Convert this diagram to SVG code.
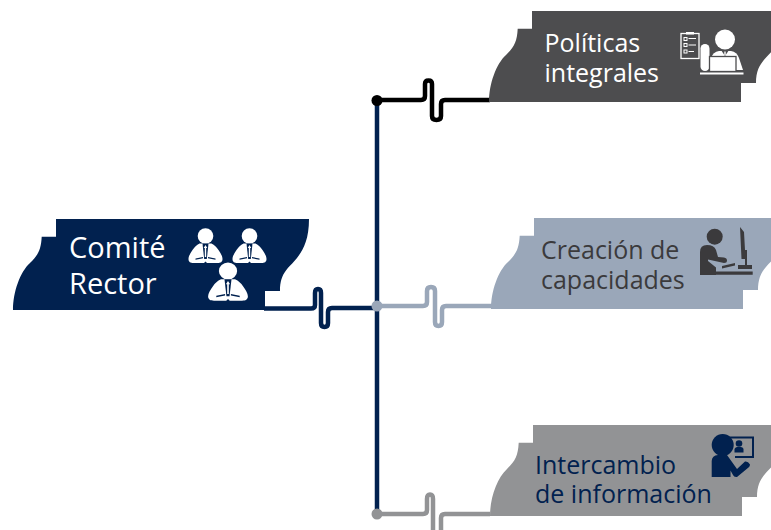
<svg xmlns="http://www.w3.org/2000/svg" xmlns:xlink="http://www.w3.org/1999/xlink" width="771" height="530" viewBox="0 0 771 530">
<style>
text{font-family:"Open Sans","Noto Sans","Liberation Sans",sans-serif;font-size:25px}
.big{font-size:29px}
.w{fill:#fff}.d{fill:#3b3a3c}.n{fill:#01214f}
.c{fill:none;stroke-width:4.500;stroke-linejoin:round}
.lw{fill:none;stroke:#fff}
</style>
<defs>
<path id="tag" d="M56 219H309C309 240 303 250 297 258C289 268 280 272 280 291H265V310H13C13 292 20 272 30 263C38 255 41 250 41.7 236.7H56Z"/>
<g id="boss">
<circle cx="0" cy="0" r="7.800" fill="#fff"/>
<path fill="#fff" d="M-6 7.500C-9 9-11 11-13 14C-15 17-17 20-17 23C-17 26-15 27-12 27H-1.500L0 25.500L1.500 27H12C15 27 17 26 17 23C17 20 15 17 13 14C11 11 9 9 6 7.500Z"/>
<path fill="#01214f" d="M-3 7.500H3L1.300 23H-1.300Z"/>
<path fill="#fff" d="M0 9L1.800 12H.7V21H-.7V12H-1.800Z"/>
<path fill="#01214f" d="M-10 22.500L-2.500 21V22.200L-10 23.800ZM10 22.500L2.500 21V22.200L10 23.800Z"/>
</g>
</defs>

<g id="connectors">
<path class="c" stroke="#01214f" d="M377 100V514"/>
<path class="c" stroke="#000" d="M377 100H421Q425 100 425 96V84Q425 80.500 428.500 80.500Q432 80.500 432 84V116Q432 120 436.500 120Q441 120 441 116V104Q441 100 445 100H490"/>
<path class="c" stroke="#01214f" d="M264 308.500H311Q315 308.500 315 305V293Q315 289 318 289Q321 289 321 293V323Q321 327 324.500 327Q328 327 328 323V312Q328 308 332 308H376"/>
<path class="c" stroke="#9aa7b9" d="M377 306H423Q427 306 427 302V291Q427 287 431 287Q435 287 435 291V322Q435 326 438.500 326Q442 326 442 322V310Q442 306 446 306H492"/>
<path class="c" stroke="#929395" d="M377 514H423Q427 514 427 510V499Q427 494.500 430 494.500Q433 494.500 433 499V535M441 535V518Q441 514 445 514H490"/>
<circle cx="377" cy="100.500" r="5.500" fill="#000"/>
<circle cx="377" cy="306" r="5.500" fill="#9aa7b9"/>
<circle cx="377" cy="514" r="5.500" fill="#929395"/>
</g>

<g id="node-comite">
<use xlink:href="#tag" href="#tag" fill="#01214f"/>
<text class="w big" x="69" y="258">Comité</text>
<text class="w big" x="69" y="293.500">Rector</text>
<use href="#boss" transform="translate(205.500 236)"/>
<use href="#boss" transform="translate(249.500 236)"/>
<use href="#boss" transform="translate(228 271) scale(1.170 1.100)"/>
</g>

<g id="node-politicas">
<use href="#tag" transform="translate(476 -208)" fill="#4d4d4f"/>
<text class="w" x="544.500" y="52">Políticas</text>
<text class="w" x="544.500" y="82">integrales</text>
<rect class="lw" x="681" y="33.500" width="18" height="25" stroke-width="1.300"/>
<rect x="686" y="32" width="8" height="2.500" fill="#fff"/>
<g class="lw" stroke-width="1">
<rect x="684" y="37.500" width="3" height="3"/><rect x="684" y="43.500" width="3" height="3"/><rect x="684" y="50" width="3" height="3"/>
<path d="M688.500 38.500H696M688.500 45H696M688.500 51.500H694"/>
</g>
<circle cx="725" cy="39.500" r="10" fill="#fff"/>
<rect x="700.500" y="44" width="9" height="27" rx="4.500" fill="#fff"/>
<path fill="#fff" d="M711 70V58Q713 52 719 51H731Q737 52 739 58L743 70Z"/>
<path fill="#4d4d4f" d="M721 50L725 56L729 50Z"/>
<path fill="#fff" d="M724.300 51.500H725.700V55H724.300Z"/>
<rect x="709.500" y="56.500" width="26.500" height="15" fill="#fff" stroke="#4d4d4f" stroke-width="1.300"/>
<rect x="700" y="72.500" width="43.500" height="2" fill="#fff"/>
</g>

<g id="node-creacion">
<use href="#tag" transform="translate(478 -1)" fill="#9aa7b9"/>
<text class="d" x="541" y="259">Creación de</text>
<text class="d" x="541" y="289">capacidades</text>
<circle cx="714.700" cy="236.700" r="8" fill="#3b3a3c"/>
<path fill="#3b3a3c" d="M700 275V252Q700 245 707 245Q714 245 716 250L718 257L724 257.500Q727 258 727 260.500Q727 263 724 263L708 259.500V261L716 267.500V275Z"/>
<path fill="#3b3a3c" d="M740 227L744 232L745.500 259H741.500ZM745 250H747V265H752V269H738V265H745ZM722 266L735 263V265.500L722 268.500ZM716 271.500H752.700V274.700H716Z"/>
</g>

<g id="node-intercambio">
<use href="#tag" transform="translate(477 206)" fill="#929395"/>
<text class="n" x="535" y="474">Intercambio</text>
<text class="n" x="535" y="503">de información</text>
<ellipse cx="722.700" cy="445" rx="11" ry="11" fill="#01214f"/>
<path fill="#01214f" d="M711.700 477V461Q712 455.500 718 455H727L737 469L745 461.500Q748 461 750 464.500Q750 466.500 748.500 467.500L737 477Q734 477.500 733 475L730.500 470.500V477Z"/>
<path class="lw" style="stroke:#01214f" stroke-width="2" d="M727 437.500H753V457H735"/>
<circle cx="739" cy="443.500" r="3.300" fill="#01214f"/>
<path fill="#01214f" d="M734.500 452.500V449Q735 447.500 737 447H741Q743.500 447.500 743.500 449V452.500Z"/>
</g>
</svg>
